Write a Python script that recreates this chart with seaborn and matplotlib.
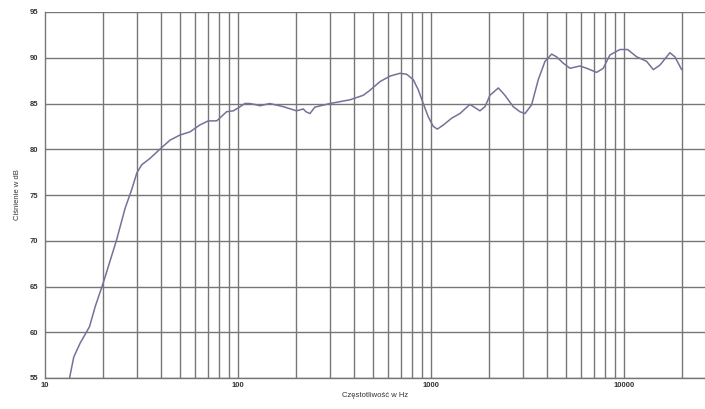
import matplotlib
matplotlib.use("Agg")
import matplotlib.pyplot as plt
import seaborn as sns
import numpy as np
import pandas as pd
from matplotlib.ticker import FixedLocator, NullFormatter, FixedFormatter

freq_hz = [13.4, 14.1, 15.2, 17.0, 18.2, 20.0, 23.5, 26.0, 28.1, 29.9, 31.7, 35.0, 40.3,
           44.5, 50, 56.4, 63.4, 70.2, 77.6, 87.3, 94.5, 100, 108.6, 115, 125, 130, 146,
           172, 201, 218, 225, 236, 250, 300, 380, 446, 480, 545, 614, 691, 748, 810, 859,
           912, 968, 1028, 1079, 1159, 1281, 1412, 1592, 1794, 1905, 2022, 2234, 2416,
           2669, 2891, 3070, 3322, 3597, 3897, 4220, 4478, 4850, 5250, 5916, 6408, 7217,
           7812, 8455, 9530, 10450, 11640, 12100, 13110, 14200, 15370, 17300, 18370, 19900]
spl_db = [55.0, 57.3, 58.8, 60.6, 62.8, 65.35, 70.1, 73.55, 75.55, 77.4, 78.3, 79.0, 80.2,
          81.0, 81.55, 81.9, 82.65, 83.1, 83.1, 84.1, 84.2, 84.5, 85.0, 85.0, 84.85, 84.75, 85.0,
          84.65, 84.2, 84.4, 84.1, 83.9, 84.6, 85.0, 85.4, 85.9, 86.4, 87.4, 88.0, 88.3, 88.2, 87.6, 86.5,
          85.0, 83.55, 82.5, 82.2, 82.65, 83.4, 83.9, 84.9, 84.2, 84.65, 85.9, 86.7, 85.9,
          84.65, 84.1, 83.9, 84.85, 87.6, 89.6, 90.4, 90.1, 89.4, 88.85, 89.1, 88.85, 88.4,
          88.85, 90.3, 90.9, 90.9, 90.1, 89.95, 89.6, 88.7, 89.2, 90.55, 90.1, 88.7]

y_ticks = [55, 60, 65, 70, 75, 80, 85, 90, 95]
x_major = [10, 100, 1000, 10000]
x_major_labels = ["10", "100", "1000", "10000"]
x_grid = [m * d for d in [10, 100, 1000] for m in range(2, 11)] + [20000]

df = pd.DataFrame({"f": freq_hz, "db": spl_db})

sns.set_theme(style="white")
plt.rcParams['font.family'] = ['Liberation Sans', 'DejaVu Sans']

fig = plt.figure(figsize=(7.05, 4.09), dpi=100)
ax = fig.add_axes([45 / 705, 1 - 378 / 409, 1 - 45 / 705, (378 - 12) / 409])

grid_c = "#767676"
for v in x_grid:
    ax.axvline(v, color=grid_c, lw=1.0, zorder=1)
for h in y_ticks:
    ax.axhline(h, color=grid_c, lw=1.0, zorder=1)

sns.lineplot(data=df, x="f", y="db", ax=ax, color="#72729a", lw=1.1, zorder=3,
             estimator=None, sort=True)

ax.set_xscale("log")
ax.set_xlim(10, 26300)
ax.set_ylim(55, 95)
ax.xaxis.set_major_locator(FixedLocator(x_major))
ax.xaxis.set_major_formatter(FixedFormatter(x_major_labels))
ax.xaxis.set_minor_locator(FixedLocator([]))
ax.xaxis.set_minor_formatter(NullFormatter())
ax.set_yticks(y_ticks)
ax.set_yticklabels([str(t) for t in y_ticks])

ax.tick_params(axis="both", labelsize=5.5, colors="#333333", length=3, width=0.8,
               direction="out", pad=2)
ax.tick_params(axis="x", length=0, pad=3)
for lab in ax.get_xticklabels() + ax.get_yticklabels():
    lab.set_fontweight("bold")

for s in ["top", "right"]:
    ax.spines[s].set_visible(False)
for s in ["left", "bottom"]:
    ax.spines[s].set_color(grid_c)
    ax.spines[s].set_linewidth(1.0)

ax.set_xlabel("Częstotliwość w Hz", fontsize=5.5, color="#333333", labelpad=2)
ax.set_ylabel("Ciśnienie w dB", fontsize=5.5, color="#333333", labelpad=6)

fig.savefig("out.png", dpi=100)
